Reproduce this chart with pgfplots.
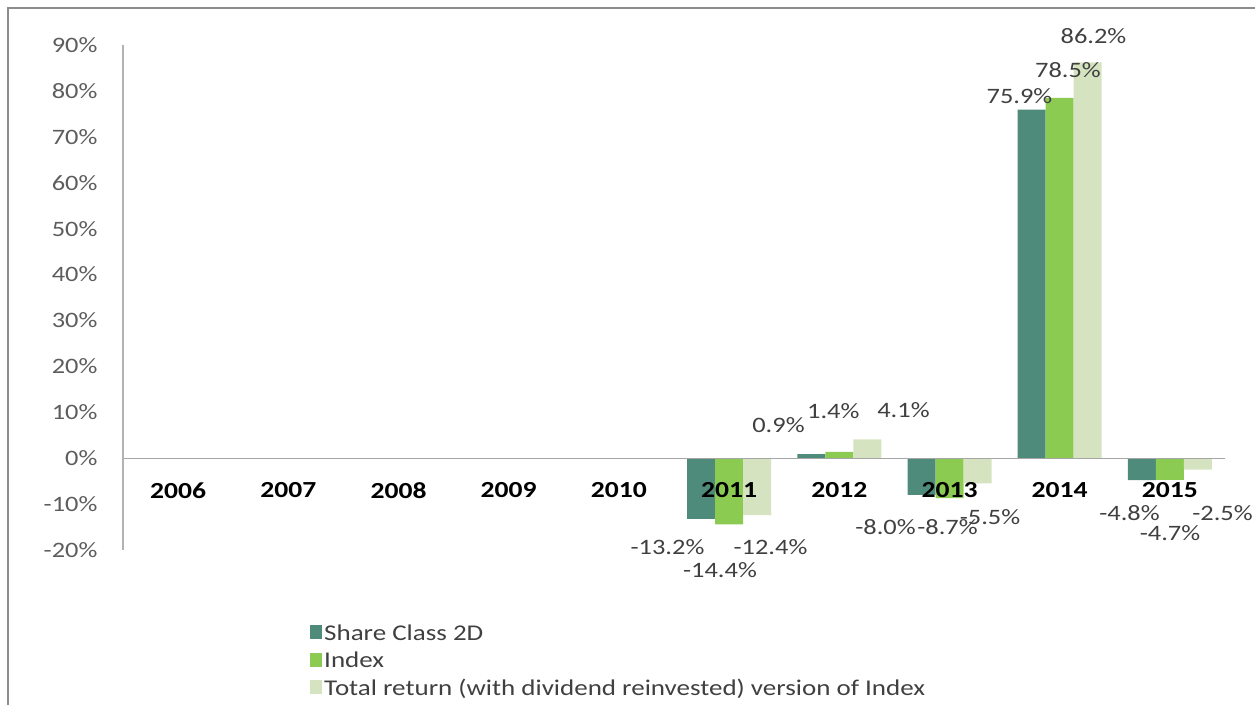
\documentclass[border=0pt]{standalone}
\usepackage{pgfplots}
\pgfplotsset{compat=1.18}
\usepackage{pgfplotstable}
\usepackage{fontspec}
\setmainfont{Carlito}[FakeStretch=1.2]
\definecolor{cDark}{HTML}{4F8B7A}
\definecolor{cIdx}{HTML}{8CCB52}
\definecolor{cTot}{HTML}{D6E3C0}
\definecolor{cLab}{HTML}{404040}
\definecolor{cFrame}{HTML}{8C8C8C}

% x = category index (0 = 2006), y = return in %, dx/dy = label offset in pt
\pgfplotstableread{
x y lab dx dy
5 -13.2 -13.2 -33.6 -28.4
6 0.9 0.9 -32.8 28.9
7 -8.0 -8.0 -36.0 -32.3
8 75.9 75.9 -12.2 13.7
9 -4.8 -4.8 -12.4 -33.0
}\shareclass
\pgfplotstableread{
x y lab dx dy
5 -14.4 -14.4 -9.1 -45.9
6 1.4 1.4 -6.0 40.6
7 -8.7 -8.7 -2.0 -29.1
8 78.5 78.5 8.3 27.8
9 -4.7 -4.7 0.1 -53.4
}\indexdata
\pgfplotstableread{
x y lab dx dy
5 -12.4 -12.4 13.4 -32.1
6 4.1 4.1 36.2 29.2
7 -5.5 -5.5 12.5 -33.8
8 86.2 86.2 5.8 26.4
9 -2.5 -2.5 24.6 -43.5
}\totalret

\begin{document}
\begin{tikzpicture}
\draw[cFrame, line width=1.6pt] (-115pt,-170pt) rectangle (1150pt,542pt);
\begin{axis}[
  at={(0pt,0pt)}, anchor=south west,
  scale only axis,
  width=1102pt, height=505pt,
  xmin=-0.5, xmax=9.5,
  ymin=-20, ymax=90,
  ybar=0pt, bar width=28pt,
  axis on top,
  axis x line*=middle,
  axis y line*=left,
  x axis line style={-, draw=gray!70, line width=1pt},
  y axis line style={-, draw=gray!60, line width=1.3pt},
  major tick length=0pt,
  xtick={0,...,9},
  xticklabels={2006,2007,2008,2009,2010,2011,2012,2013,2014,2015},
  xticklabel style={font=\fontsize{23}{27}\selectfont\bfseries, text=black, yshift=-21pt, anchor=north},
  ytick={-20,-10,0,10,20,30,40,50,60,70,80,90},
  yticklabels={-20\%,-10\%,0\%,10\%,20\%,30\%,40\%,50\%,60\%,70\%,80\%,90\%},
  yticklabel style={font=\fontsize{22}{26}\selectfont, text=cLab!85, anchor=east, xshift=-22pt},
  point meta=explicit symbolic,
  nodes near coords={\pgfplotspointmeta\%},
  visualization depends on={\thisrow{dx} \as \ldx},
  visualization depends on={\thisrow{dy} \as \ldy},
  every node near coord/.append style={font=\fontsize{22}{26}\selectfont, text=cLab, anchor=center, inner sep=1pt, xshift=\ldx pt, yshift=\ldy pt},
  legend style={at={(0.167,-0.14)}, anchor=north west, draw=none, fill=none,
    font=\fontsize{22.5}{26}\selectfont, text=cLab, row sep=6pt,
    /tikz/every even column/.append style={column sep=2pt}},
  legend cell align=left,
  legend image code/.code={\fill[#1] (0pt,-6pt) rectangle (12pt,8pt);},
  clip=false,
]
\addplot[fill=cDark, draw=none] table[x=x, y=y, meta=lab] {\shareclass};
\addlegendentry{Share Class 2D}
\addplot[fill=cIdx, draw=none] table[x=x, y=y, meta=lab] {\indexdata};
\addlegendentry{Index}
\addplot[fill=cTot, draw=none] table[x=x, y=y, meta=lab] {\totalret};
\addlegendentry{Total return (with dividend reinvested) version of Index}
\end{axis}
\pgfresetboundingbox
\path[use as bounding box] (-123pt,-154pt) rectangle (1132pt,550pt);
\end{tikzpicture}
\end{document}
